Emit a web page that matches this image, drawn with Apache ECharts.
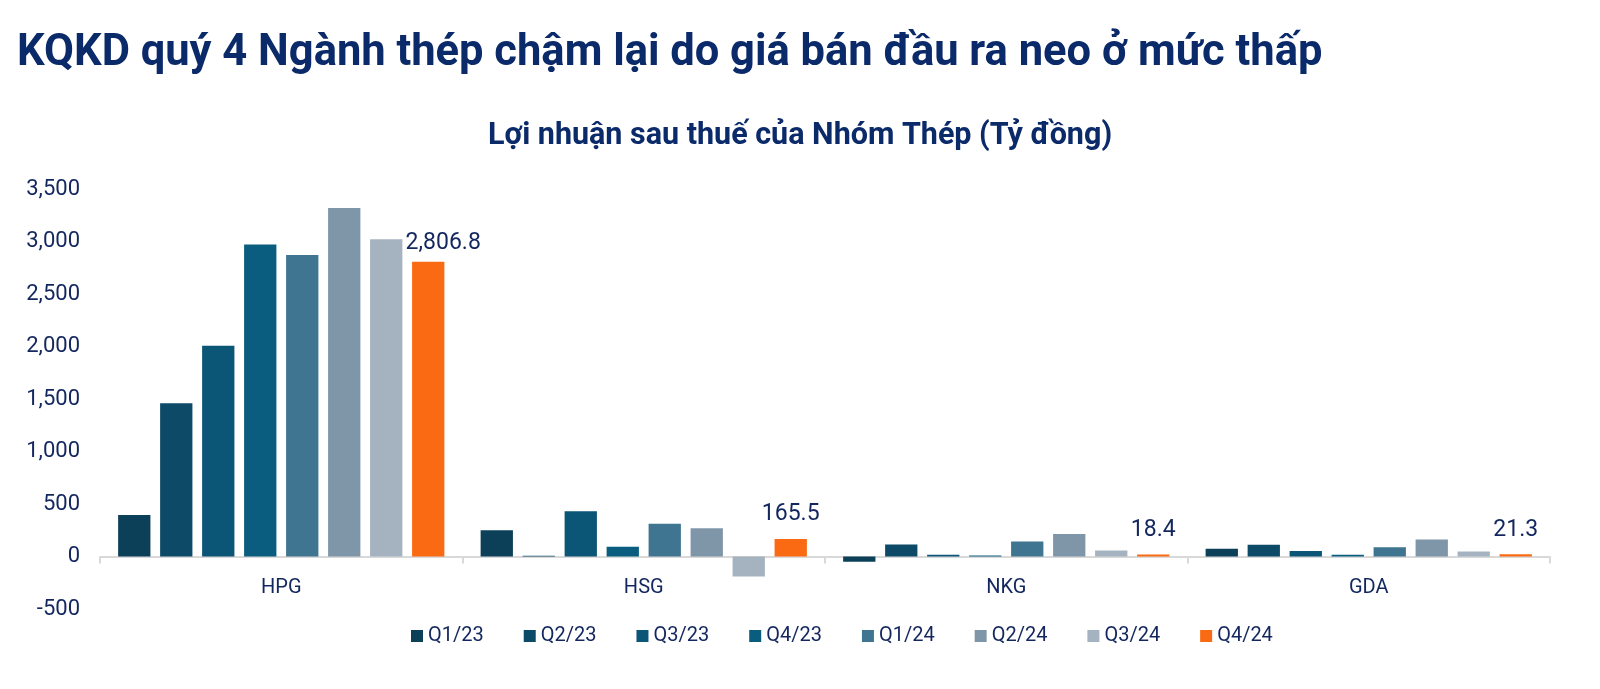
<!DOCTYPE html>
<html>
<head>
<meta charset="utf-8">
<title>KQKD quý 4 Ngành thép</title>
<script src="https://cdn.jsdelivr.net/npm/echarts@6/dist/echarts.min.js"></script>
<style>
	html, body { margin: 0; padding: 0; background: #fff; }
	#main { width: 1600px; height: 689px; }
</style>
</head>
<body>
<div id="main"></div>
<script>
	/* 数据 */
	var companies = ['HPG', 'HSG', 'NKG', 'GDA'];
	var quarters = ['Q1/23', 'Q2/23', 'Q3/23', 'Q4/23', 'Q1/24', 'Q2/24', 'Q3/24', 'Q4/24'];
	var q1_23 = [395, 249, -50, 75];
	var q2_23 = [1459, 8, 115, 112];
	var q3_23 = [2007, 432, 16, 53];
	var q4_23 = [2971, 93, 9, 16];
	var q1_24 = [2871, 311, 143, 87];
	var q2_24 = [3319, 268, 215, 162];
	var q3_24 = [3021, -190, 56, 47];
	var q4_24 = [2806.8, 165.5, 18.4, 21.3];
	var yTicks = [-500, 0, 500, 1000, 1500, 2000, 2500, 3000, 3500];

	var colors = ['#0c3f58', '#0d4a68', '#0b5576', '#0a5d7e', '#3f7590', '#7f96a8', '#a5b3c0', '#fa6a12'];
	var seriesData = [q1_23, q2_23, q3_23, q4_23, q1_24, q2_24, q3_24, q4_24];
	var textColor = '#13275e';
	var font = 'Roboto';

	function fmt(v) {
		return Number(v).toLocaleString('en-US');
	}

	var myChart = echarts.init(document.getElementById('main'));

	var series = [];
	for (var i = 0; i < quarters.length; i++) {
		var s = {
			name: quarters[i],
			type: 'bar',
			barGap: '30%',
			barCategoryGap: '10%',
			itemStyle: { color: colors[i] },
			data: seriesData[i]
		};
		// chỉ quý cuối có nhãn
		if (i == quarters.length - 1) {
			var d = [];
			for (var k = 0; k < seriesData[i].length; k++) {
				var item = { value: seriesData[i][k] };
				if (k == 0) {
					item.label = { offset: [15, 6] };
				}
				d.push(item);
			}
			s.data = d;
			s.label = {
				show: true,
				position: 'top',
				distance: 13,
				color: textColor,
				fontFamily: font,
				fontSize: 23,
				formatter: function(p) {
					return fmt(p.value);
				}
			};
		}
		series.push(s);
	}

	var option = {
		animation: false,
		color: colors,
		title: [
			{
				text: 'KQKD quý 4 Ngành thép chậm lại do giá bán đầu ra neo ở mức thấp',
				left: 12,
				top: 27,
				textStyle: { color: '#0b2a6a', fontFamily: font, fontWeight: 'bold', fontSize: 43.5 }
			},
			{
				text: 'Lợi nhuận sau thuế của Nhóm Thép (Tỷ đồng)',
				left: 'center',
				top: 116,
				textStyle: { color: '#0b2a6a', fontFamily: font, fontWeight: 'bold', fontSize: 30.5 }
			}
		],
		legend: {
			bottom: 38,
			left: 406,
			itemWidth: 12,
			itemHeight: 12,
			itemGap: 40,
			icon: 'rect',
			textStyle: { color: textColor, fontFamily: font, fontSize: 20 },
			data: quarters
		},
		grid: {
			left: 100,
			right: 50,
			top: 189,
			bottom: 80,
			containLabel: false
		},
		xAxis: {
			type: 'category',
			data: companies,
			axisLine: { lineStyle: { color: '#d9d9d9', width: 2 } },
			axisTick: { show: true, length: 7, lineStyle: { color: '#d9d9d9', width: 2 } },
			axisLabel: { color: textColor, fontFamily: font, fontSize: 20, margin: -31 }
		},
		yAxis: {
			type: 'value',
			min: yTicks[0],
			max: yTicks[yTicks.length - 1],
			interval: 500,
			splitLine: { show: false },
			axisLine: { show: false },
			axisTick: { show: false },
			axisLabel: {
				color: textColor,
				fontFamily: font,
				fontSize: 22,
				margin: 20,
				formatter: function(v) { return fmt(v); }
			}
		},
		series: series
	};
	myChart.setOption(option);
</script>
</body>
</html>
